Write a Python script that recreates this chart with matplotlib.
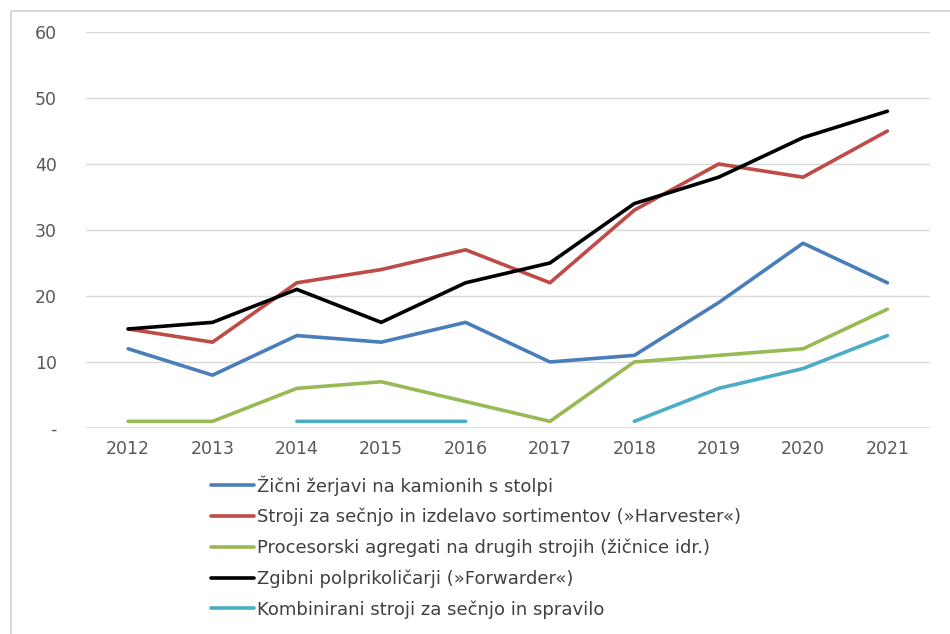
import numpy as np
import matplotlib
matplotlib.use('Agg')
import matplotlib.pyplot as plt
from matplotlib.patches import Rectangle

plt.rcParams['font.family'] = ['DejaVu Sans']

years = [2012, 2013, 2014, 2015, 2016, 2017, 2018, 2019, 2020, 2021]
zicni = [12, 8, 14, 13, 16, 10, 11, 19, 28, 22]
harvester = [15, 13, 22, 24, 27, 22, 33, 40, 38, 45]
procesorski = [1, 1, 6, 7, 4, 1, 10, 11, 12, 18]
forwarder = [15, 16, 21, 16, 22, 25, 34, 38, 44, 48]
kombinirani = [np.nan, np.nan, 1, 1, 1, np.nan, 1, 6, 9, 14]

labels = [
    'Žični žerjavi na kamionih s stolpi',
    'Stroji za sečnjo in izdelavo sortimentov (»Harvester«)',
    'Procesorski agregati na drugih strojih (žičnice idr.)',
    'Zgibni polprikoličarji (»Forwarder«)',
    'Kombinirani stroji za sečnjo in spravilo',
]
colors = ['#4a7ebb', '#be4b48', '#98b954', '#000000', '#4bacc6']
series = [zicni, harvester, procesorski, forwarder, kombinirani]

fig = plt.figure(figsize=(9.5, 6.34), dpi=100)
fig.patches.append(Rectangle((0.012, -0.05), 1.05, 1.032, transform=fig.transFigure,
                             fill=False, edgecolor='#d0d0d0', linewidth=1.2))

ax = fig.add_axes([0.0905, 0.325, 0.888, 0.6245])
x = np.arange(len(years))
for vals, col, lab in zip(series, colors, labels):
    ax.plot(x, vals, color=col, linewidth=2.6, label=lab, solid_capstyle='round')

ax.set_xlim(-0.5, len(years) - 0.5)
ax.set_ylim(0, 60)
ax.set_yticks(range(0, 61, 10))
ax.set_yticklabels(['-'] + [str(v) for v in range(10, 61, 10)])
ax.set_xticks(x)
ax.set_xticklabels([str(y) for y in years])
ax.tick_params(length=0, labelsize=12.5, colors='#595959', pad=9)
ax.tick_params(axis='y', pad=21)
ax.grid(axis='y', color='#d9d9d9', linewidth=1)
ax.axhline(0, color='#d9d9d9', linewidth=1.2, zorder=0.5)
ax.set_axisbelow(True)
for s in ax.spines.values():
    s.set_visible(False)

fig.legend(loc='upper left', bbox_to_anchor=(0.214, 0.262), frameon=False,
           fontsize=13, handlelength=2.4, handletextpad=0.15, labelspacing=0.68,
           labelcolor='#404040', borderaxespad=0)

fig.savefig('out.png', dpi=100)
